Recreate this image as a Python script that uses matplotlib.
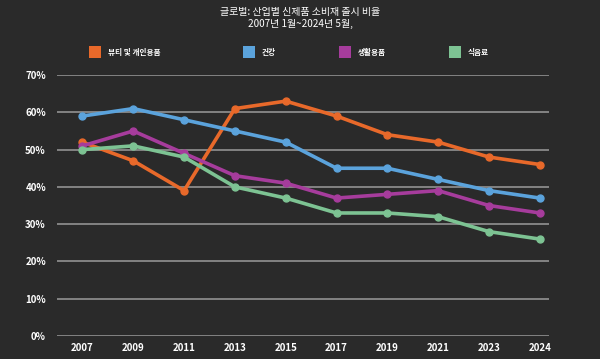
import matplotlib.pyplot as plt

plt.rcParams['font.family'] = ['Noto Sans CJK KR', 'DejaVu Sans']

years = ["2007", "2009", "2011", "2013", "2015", "2017", "2019", "2021", "2023", "2024"]
beauty = [52, 47, 39, 61, 63, 59, 54, 52, 48, 46]
health = [59, 61, 58, 55, 52, 45, 45, 42, 39, 37]
household = [51, 55, 49, 43, 41, 37, 38, 39, 35, 33]
food = [50, 51, 48, 40, 37, 33, 33, 32, 28, 26]

labels = ["뷰티 및 개인용품", "건강", "생활용품", "식음료"]
colors = ["#e8692a", "#5ba3dc", "#a63c9c", "#7dc393"]

bg = "#2a2a2a"
fig = plt.figure(figsize=(6, 3.59), dpi=100, facecolor=bg)
ax = fig.add_axes([0.095, 0.064, 0.82, 0.727])
ax.set_facecolor(bg)

x = list(range(len(years)))
for vals, c in zip([beauty, health, household, food], colors):
    ax.plot(x, vals, color=c, lw=2.6, marker='o', ms=5, clip_on=False, zorder=3)

ax.set_ylim(0, 70)
ax.set_xlim(-0.5, 9.18)
ax.set_yticks(range(0, 71, 10))
ax.set_yticklabels([f"{v}%" for v in range(0, 71, 10)])
ax.set_xticks(x)
ax.set_xticklabels(years)
ax.grid(axis='y', color="#8a8a8a", lw=1.3, zorder=1)
ax.tick_params(length=0, colors="white", labelsize=7)
ax.tick_params(axis='x', pad=5)
ax.tick_params(axis='y', pad=8)
for lab in ax.get_xticklabels() + ax.get_yticklabels():
    lab.set_fontweight('bold')
for s in ax.spines.values():
    s.set_visible(False)

fig.text(0.5, 0.967, "글로벌: 산업별 신제품 소비재 출시 비율", color="white",
         ha='center', va='center', fontsize=7.2)
fig.text(0.5, 0.933, "2007년 1월~2024년 5월,", color="white",
         ha='center', va='center', fontsize=7.2)

leg_x = [95, 249, 345, 455]
for lx, lab, c in zip(leg_x, labels, colors):
    fig.patches.append(plt.Rectangle(((lx - 6) / 600, 1 - 58 / 359), 12 / 600, 12 / 359,
                                     transform=fig.transFigure, facecolor=c, edgecolor='none'))
    fig.text((lx + 13) / 600, 1 - 52 / 359, lab, color="white", ha='left', va='center',
             fontsize=5.5, fontweight='bold')

fig.savefig("out.png", dpi=100, facecolor=bg)
